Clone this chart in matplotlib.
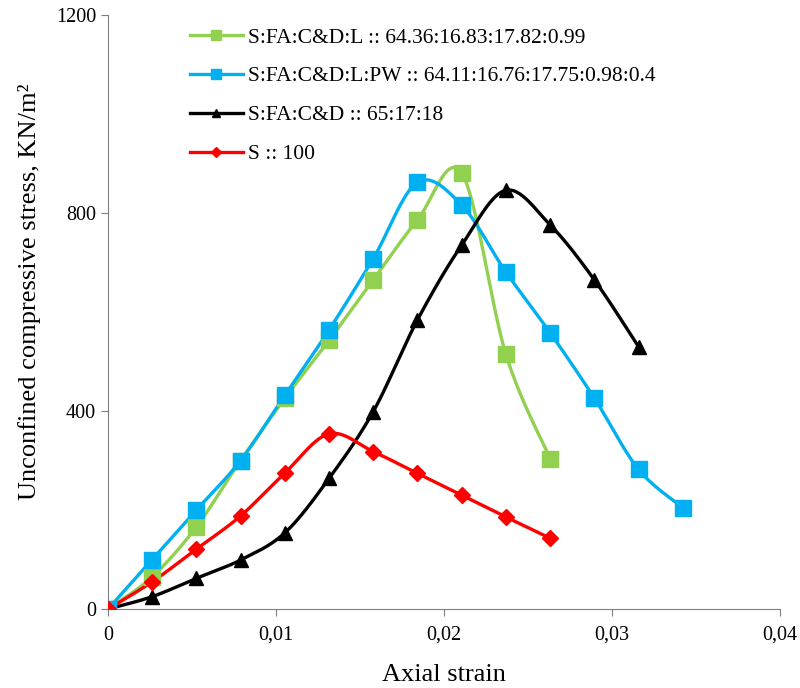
import numpy as np
import matplotlib
matplotlib.use("Agg")
import matplotlib.pyplot as plt

plt.rcParams['font.family'] = ['Liberation Serif', 'DejaVu Serif']

# axial strain values (shared by all series)
strain = [0, 0.00263, 0.00526, 0.00789, 0.01053, 0.01316, 0.01579,
          0.01842, 0.02105, 0.02368, 0.02632, 0.02895, 0.03158, 0.03421]

# unconfined compressive stress, KN/m2
s_fa_cd_l = [0, 65, 166, 300, 426, 543, 665, 786, 881, 515, 304]
s_fa_cd_l_pw = [0, 100, 200, 300, 432, 564, 708, 862, 816, 681, 558, 426, 282, 205]
s_fa_cd = [0, 25, 62, 99, 154, 264, 399, 584, 735, 846, 776, 665, 530]
s_only = [0, 55, 121, 188, 275, 354, 318, 274, 230, 186, 143]

labels = ['S:FA:C&D:L :: 64.36:16.83:17.82:0.99',
          'S:FA:C&D:L:PW :: 64.11:16.76:17.75:0.98:0.4',
          'S:FA:C&D :: 65:17:18',
          'S :: 100']
colors = ['#92D050', '#00B0F0', '#000000', '#FF0000']
markers = ['s', 's', '^', 'D']
msizes = [11, 11, 10, 8]


def smooth(x, y, n=30):
    # excel-like smoothed line (catmull-rom bezier)
    x = np.asarray(x, float)
    y = np.asarray(y, float)
    px = np.concatenate([[x[0]], x, [x[-1]]])
    py = np.concatenate([[y[0]], y, [y[-1]]])
    xs, ys = [], []
    t = np.linspace(0, 1, n)
    for i in range(1, len(px) - 2):
        p0 = np.array([px[i], py[i]])
        p3 = np.array([px[i + 1], py[i + 1]])
        c1 = p0 + (np.array([px[i + 1], py[i + 1]]) - np.array([px[i - 1], py[i - 1]])) / 6
        c2 = p3 - (np.array([px[i + 2], py[i + 2]]) - np.array([px[i], py[i]])) / 6
        b = ((1 - t) ** 3)[:, None] * p0 + (3 * (1 - t) ** 2 * t)[:, None] * c1 \
            + (3 * (1 - t) * t ** 2)[:, None] * c2 + (t ** 3)[:, None] * p3
        xs.extend(b[:, 0])
        ys.extend(b[:, 1])
    return xs, ys


fig = plt.figure(figsize=(8, 6.88), dpi=100)
ax = fig.add_axes([0.135, 0.1148, 0.84, 0.8633])

series = [s_fa_cd_l, s_fa_cd_l_pw, s_fa_cd, s_only]
for ys, lab, c, m, ms in zip(series, labels, colors, markers, msizes):
    xs = strain[:len(ys)]
    sx, sy = smooth(xs, ys)
    ax.plot(sx, sy, color=c, lw=2.4, zorder=2)
    ax.plot(xs, ys, ls='none', marker=m, ms=ms, color=c, zorder=3)
    ax.plot([], [], color=c, lw=2.4, marker=m, ms=ms * 0.6, label=lab)

ax.set_xlim(0, 0.04)
ax.set_ylim(0, 1200)
ax.set_xticks([0, 0.01, 0.02, 0.03, 0.04])
ax.set_xticklabels(['0', '0,01', '0,02', '0,03', '0,04'])
ax.set_yticks([0, 400, 800, 1200])
ax.tick_params(labelsize=14.5, length=5, color='#7f7f7f')
ax.tick_params(axis='x', pad=7)
for s in ['top', 'right']:
    ax.spines[s].set_visible(False)
for s in ['left', 'bottom']:
    ax.spines[s].set_color('#7f7f7f')

ax.set_xlabel('Axial strain', fontsize=19, labelpad=14)
ax.set_ylabel('Unconfined compressive stress, KN/m²', fontsize=19)
ax.yaxis.set_label_coords(-0.1, 0.535)

ax.legend(loc='upper left', bbox_to_anchor=(0.213, 0.988), bbox_transform=fig.transFigure,
          frameon=False, fontsize=15.5, handlelength=2.47, labelspacing=0.87,
          handletextpad=0.23)

fig.savefig('out.png', dpi=100)
